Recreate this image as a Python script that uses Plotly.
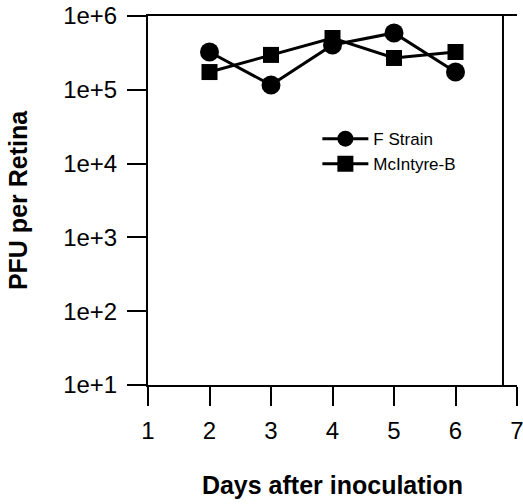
import plotly.graph_objects as go

days = [2, 3, 4, 5, 6]
f_strain = [3.25e5, 1.16e5, 4.05e5, 5.9e5, 1.74e5]
mcintyre_b = [1.74e5, 2.97e5, 5.03e5, 2.7e5, 3.25e5]

x_ticks = [1, 2, 3, 4, 5, 6, 7]
y_tickvals = [1e1, 1e2, 1e3, 1e4, 1e5, 1e6]
y_ticktext = ["1e+1", "1e+2", "1e+3", "1e+4", "1e+5", "1e+6"]

FONT = "Liberation Sans, Arial, sans-serif"

fig = go.Figure()
fig.add_trace(go.Scatter(
    x=days, y=f_strain, name="F Strain", mode="lines+markers",
    line=dict(color="black", width=3),
    marker=dict(symbol="circle", size=19, color="black"),
))
fig.add_trace(go.Scatter(
    x=days, y=mcintyre_b, name="McIntyre-B", mode="lines+markers",
    line=dict(color="black", width=3),
    marker=dict(symbol="square", size=16, color="black"),
))

fig.update_layout(
    width=523, height=504,
    margin=dict(l=148, r=6, t=16, b=119, autoexpand=False),
    paper_bgcolor="white", plot_bgcolor="white",
    font=dict(family=FONT, color="black"),
    showlegend=True,
    legend=dict(
        x=0.459, y=0.715, xanchor="left", yanchor="top",
        bgcolor="rgba(0,0,0,0)", font=dict(size=17, family=FONT),
        tracegroupgap=0, itemsizing="trace", itemwidth=46,
    ),
    xaxis=dict(
        range=[1, 7], tickvals=x_ticks, ticks="outside", ticklen=19,
        tickwidth=2, tickcolor="black", showline=True, linecolor="black",
        linewidth=2, mirror=True, showgrid=False, zeroline=False,
        tickfont=dict(size=24), ticklabelstandoff=4, automargin=False,
        ticklabeloverflow="allow",
        title=dict(text="<b>Days after inoculation</b>", font=dict(size=25), standoff=34),
    ),
    yaxis=dict(
        type="log", range=[1, 6], tickvals=y_tickvals, ticktext=y_ticktext,
        ticks="outside", ticklen=19, tickwidth=2, tickcolor="black",
        showline=True, linecolor="black", linewidth=2, showgrid=False,
        zeroline=False, tickfont=dict(size=24), ticklabelstandoff=5,
        automargin=False, ticklabeloverflow="allow",
        title=dict(text="<b>PFU per Retina</b>", font=dict(size=25), standoff=28),
    ),
    shapes=[dict(type="line", xref="paper", yref="paper",
                 x0=0.962, x1=0.962, y0=0, y1=1,
                 line=dict(color="black", width=2))],
)

fig.write_html("out.html", config={"displayModeBar": False},
               post_script="document.body.style.margin='0';")
